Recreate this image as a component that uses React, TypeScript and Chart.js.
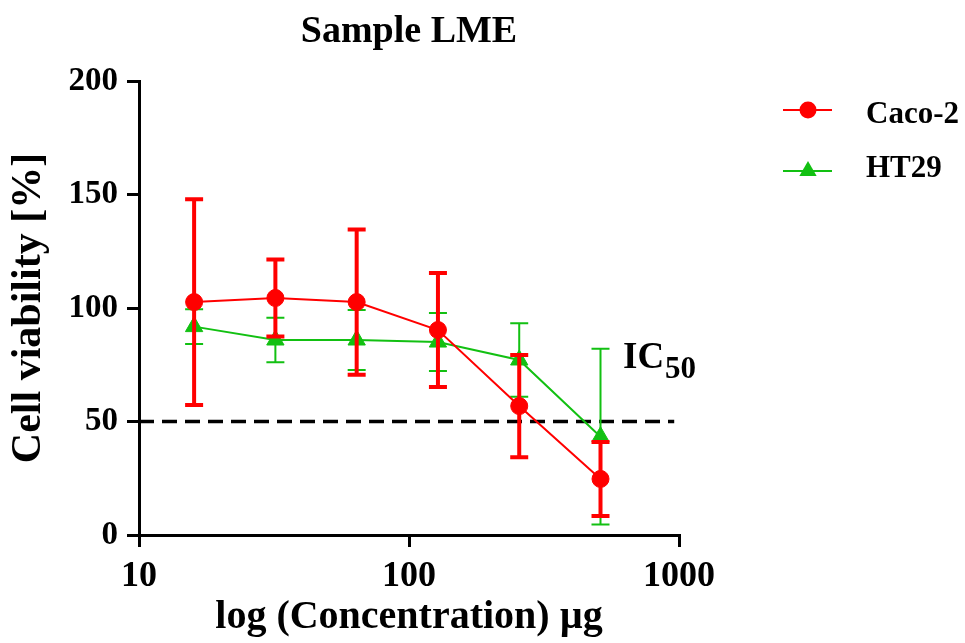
import React, { useEffect, useRef } from "react";
import { Chart, registerables } from "chart.js";

Chart.register(...registerables);

// ---- data ----
const chartTitle = "Sample LME";
const seriesLabels = ["Caco-2", "HT29"];
const concentrations = [16, 32, 64, 128, 256, 512];
const cacoMean = [102.6, 104.4, 102.6, 90.3, 56.8, 24.7];
const cacoSD = [45.3, 17, 32, 25.1, 22.5, 16.3];
const ht29Mean = [91.8, 85.9, 85.9, 85, 77.1, 43.3];
const ht29SD = [7.7, 9.8, 13.2, 12.8, 16.2, 38.7];
const xTickValues = [10, 100, 1000];
const yTickValues = [0, 50, 100, 150, 200];
const ic50Threshold = 50;
const ic50LineRange = [10, 960];
const xAxisTitle = "log (Concentration) µg";
const yAxisTitle = "Cell viability [%]";

const FONT = '"Liberation Serif", "Times New Roman", serif';
const RED = "#ff0000";
const GREEN = "#12c012";

const errorSets = [
  { mean: cacoMean, sd: cacoSD, color: RED, width: 4, cap: 9 },
  { mean: ht29Mean, sd: ht29SD, color: GREEN, width: 2, cap: 9 },
];

const annotationPlugin = {
  id: "annotations",
  beforeDatasetsDraw(chart: any) {
    const { ctx, scales } = chart;
    const xs = scales.x;
    const ys = scales.y;
    const y = ys.getPixelForValue(ic50Threshold);
    ctx.save();
    ctx.strokeStyle = "#000";
    ctx.lineWidth = 3.5;
    ctx.setLineDash([15, 8]);
    ctx.beginPath();
    ctx.moveTo(xs.getPixelForValue(ic50LineRange[0]), y);
    ctx.lineTo(xs.getPixelForValue(ic50LineRange[1]), y);
    ctx.stroke();
    ctx.restore();
  },
  beforeDatasetDraw(chart: any, args: any) {
    const set = errorSets[args.index];
    if (!set) return;
    const { ctx, scales } = chart;
    const xs = scales.x;
    const ys = scales.y;
    ctx.save();
    ctx.strokeStyle = set.color;
    ctx.lineWidth = set.width;
    ctx.setLineDash([]);
    concentrations.forEach((c, i) => {
      const x = xs.getPixelForValue(c);
      const yt = ys.getPixelForValue(set.mean[i] + set.sd[i]);
      const yb = ys.getPixelForValue(set.mean[i] - set.sd[i]);
      ctx.beginPath();
      ctx.moveTo(x, yt);
      ctx.lineTo(x, yb);
      ctx.moveTo(x - set.cap, yt);
      ctx.lineTo(x + set.cap, yt);
      ctx.moveTo(x - set.cap, yb);
      ctx.lineTo(x + set.cap, yb);
      ctx.stroke();
    });
    ctx.restore();
  },
  afterDraw(chart: any) {
    const { ctx, chartArea } = chart;
    ctx.save();
    ctx.fillStyle = "#000";
    // title
    ctx.font = `bold 38px ${FONT}`;
    ctx.textAlign = "center";
    ctx.textBaseline = "alphabetic";
    ctx.fillText(chartTitle, (chartArea.left + chartArea.right) / 2, 42);
    // IC50
    ctx.textAlign = "left";
    ctx.font = `bold 37px ${FONT}`;
    ctx.fillText("IC", 623, 368);
    const icw = ctx.measureText("IC").width;
    ctx.font = `bold 31px ${FONT}`;
    ctx.fillText("50", 623 + icw + 1, 378);
    // legend
    const rows = [
      { y: 110, base: 123, color: RED, style: "circle", r: 8.5 },
      { y: 171, base: 177, color: GREEN, style: "triangle", r: 10 },
    ];
    rows.forEach((row, i) => {
      ctx.strokeStyle = row.color;
      ctx.fillStyle = row.color;
      ctx.lineWidth = 2;
      ctx.beginPath();
      ctx.moveTo(783, row.y);
      ctx.lineTo(832, row.y);
      ctx.stroke();
      ctx.beginPath();
      if (row.style === "circle") {
        ctx.arc(808, row.y, row.r, 0, Math.PI * 2);
      } else {
        const r = row.r;
        ctx.moveTo(808, row.y - r);
        ctx.lineTo(808 + r * 0.866, row.y + r / 2);
        ctx.lineTo(808 - r * 0.866, row.y + r / 2);
        ctx.closePath();
      }
      ctx.fill();
      ctx.fillStyle = "#000";
      ctx.font = `bold 31px ${FONT}`;
      ctx.textAlign = "left";
      ctx.fillText(seriesLabels[i], 866, row.base);
    });
    ctx.restore();
  },
};

export default function App() {
  const canvasRef = useRef<HTMLCanvasElement | null>(null);

  useEffect(() => {
    if (!canvasRef.current) return;
    const chart = new Chart(canvasRef.current, {
      type: "line",
      data: {
        datasets: [
          {
            label: seriesLabels[0],
            data: concentrations.map((x, i) => ({ x, y: cacoMean[i] })),
            borderColor: RED,
            backgroundColor: RED,
            borderWidth: 2,
            pointStyle: "circle",
            pointRadius: 8.5,
            pointBorderWidth: 1,
            tension: 0,
          },
          {
            label: seriesLabels[1],
            data: concentrations.map((x, i) => ({ x, y: ht29Mean[i] })),
            borderColor: GREEN,
            backgroundColor: GREEN,
            borderWidth: 2,
            pointStyle: "triangle",
            pointRadius: 10,
            pointBorderWidth: 1,
            tension: 0,
          },
        ],
      },
      options: {
        animation: false,
        responsive: true,
        maintainAspectRatio: false,
        layout: { padding: { top: 81, right: 286, left: 0, bottom: 0 } },
        plugins: {
          legend: { display: false },
          title: { display: false },
          tooltip: { enabled: false },
        },
        scales: {
          x: {
            type: "logarithmic",
            min: 10,
            max: 1000,
            afterFit: (scale: any) => {
              scale.height = 108;
            },
            afterBuildTicks: (scale: any) => {
              scale.ticks = xTickValues.map((v) => ({ value: v }));
            },
            grid: {
              display: true,
              drawOnChartArea: false,
              drawTicks: true,
              tickLength: 12,
              lineWidth: 3,
              color: "#000",
            },
            border: { display: true, width: 3, color: "#000" },
            ticks: {
              color: "#000",
              font: { family: FONT, size: 36, weight: "bold" },
              padding: 8,
              maxRotation: 0,
              autoSkip: false,
              callback: (v: any) => String(v),
            },
            title: {
              display: true,
              text: xAxisTitle,
              color: "#000",
              font: { family: FONT, size: 40, weight: "bold" },
              padding: { top: 0, bottom: 1 },
            },
          },
          y: {
            min: 0,
            max: 200,
            afterFit: (scale: any) => {
              scale.width = 139;
            },
            afterBuildTicks: (scale: any) => {
              scale.ticks = yTickValues.map((v) => ({ value: v }));
            },
            grid: {
              display: true,
              drawOnChartArea: false,
              drawTicks: true,
              tickLength: 12,
              lineWidth: 3,
              color: "#000",
            },
            border: { display: true, width: 3, color: "#000" },
            ticks: {
              color: "#000",
              font: { family: FONT, size: 33, weight: "bold" },
              padding: 9,
              callback: (v: any) => String(v),
            },
            title: {
              display: true,
              text: yAxisTitle,
              color: "#000",
              font: { family: FONT, size: 42, weight: "bold" },
              padding: { top: 4, bottom: 0 },
            },
          },
        },
      },
      plugins: [annotationPlugin],
    });
    return () => chart.destroy();
  }, []);

  return (
    <div style={{ position: "absolute", left: 0, top: 0, width: 965, height: 643 }}>
      <canvas ref={canvasRef} />
    </div>
  );
}
